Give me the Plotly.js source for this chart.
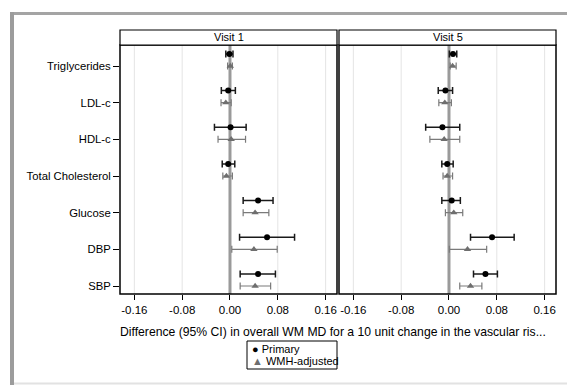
<!DOCTYPE html>
<html>
<head>
<meta charset="utf-8">
<script src="https://cdn.plot.ly/plotly-3.0.1.min.js"></script>
<style>
  html, body { margin: 0; padding: 0; background: #fff; overflow: hidden; }
  #chart { width: 567px; height: 385px; }
</style>
</head>
<body>
<div id="chart"></div>
<script>
// Risk factors, listed top to bottom
const factors = ["Triglycerides", "LDL-c", "HDL-c", "Total Cholesterol", "Glucose", "DBP", "SBP"];
const panels = ["Visit 1", "Visit 5"];

// Visit 1 – primary model
const v1PrimaryEst = [-0.001, -0.003, 0.001, -0.003, 0.047, 0.062, 0.047];
const v1PrimaryLo  = [-0.007, -0.0145, -0.026, -0.013, 0.022, 0.016, 0.017];
const v1PrimaryHi  = [0.005, 0.009, 0.027, 0.008, 0.072, 0.108, 0.076];
// Visit 1 – WMH-adjusted model
const v1AdjEst = [0.0005, -0.007, 0.002, -0.006, 0.042, 0.040, 0.042];
const v1AdjLo  = [-0.004, -0.015, -0.020, -0.012, 0.022, 0.003, 0.017];
const v1AdjHi  = [0.004, 0.002, 0.026, 0.004, 0.065, 0.079, 0.068];

// Visit 5 – primary model
const v5PrimaryEst = [0.0067, -0.006, -0.011, -0.003, 0.0045, 0.072, 0.061];
const v5PrimaryLo  = [0.0006, -0.018, -0.039, -0.012, -0.012, 0.036, 0.041];
const v5PrimaryHi  = [0.013, 0.006, 0.018, 0.007, 0.019, 0.109, 0.081];
// Visit 5 – WMH-adjusted model
const v5AdjEst = [0.006, -0.007, -0.008, -0.003, 0.008, 0.031, 0.036];
const v5AdjLo  = [0.002, -0.017, -0.032, -0.010, -0.006, 0.0006, 0.018];
const v5AdjHi  = [0.012, 0.004, 0.018, 0.006, 0.023, 0.063, 0.055];

const xTicks = [-0.16, -0.08, 0.00, 0.08, 0.16];
const xTickText = ["-0.16", "-0.08", "0.00", "0.08", "0.16"];
const xTitle = "Difference (95% CI) in overall WM MD for a 10 unit change in the vascular ris...";
const legendNames = ["Primary", "WMH-adjusted"];

const FONT = "Liberation Sans, Arial, Helvetica, sans-serif";
const W = 567, H = 385;
const px = v => v / W;           // horizontal pixel -> paper
const py = v => 1 - v / H;       // vertical pixel -> paper

// category rows: top row highest
const n = factors.length;
const rowPos = factors.map((_, i) => n - 1 - i);
const primaryShift = 0.33;       // primary estimate sits slightly above the row

function series(est, lo, hi, shift, xa, style) {
  return {
    type: "scatter", mode: "markers",
    x: est, y: rowPos.map(r => r + shift),
    xaxis: xa, yaxis: "y",
    showlegend: false, hoverinfo: "skip",
    marker: style.marker,
    error_x: {
      type: "data", symmetric: false,
      array: hi.map((h, i) => h - est[i]),
      arrayminus: lo.map((l, i) => est[i] - l),
      color: style.errColor, thickness: style.errWidth, width: 3.5
    }
  };
}

const primaryStyle = { marker: { symbol: "circle", size: 6, color: "#000" }, errColor: "#1a1a1a", errWidth: 1.5 };
const adjStyle = { marker: { symbol: "triangle-up", size: 6.5, color: "#6e6e6e" }, errColor: "#7a7a7a", errWidth: 1.2 };

const data = [
  series(v1PrimaryEst, v1PrimaryLo, v1PrimaryHi, primaryShift, "x", primaryStyle),
  series(v1AdjEst, v1AdjLo, v1AdjHi, 0, "x", adjStyle),
  series(v5PrimaryEst, v5PrimaryLo, v5PrimaryHi, primaryShift, "x2", primaryStyle),
  series(v5AdjEst, v5AdjLo, v5AdjHi, 0, "x2", adjStyle)
];

const xRange = [-0.184, 0.179];
const dom1 = [px(120), px(337)];
const dom2 = [px(339), px(556)];
const yDom = [py(294), py(45)];

function xAxis(domain) {
  return {
    domain: domain, range: xRange, anchor: "y",
    tickvals: xTicks, ticktext: xTickText,
    ticks: "outside", ticklen: 5, tickwidth: 1, tickcolor: "#000",
    showgrid: false, zeroline: false, showline: false,
    tickfont: { family: FONT, size: 11.5, color: "#000" },
    fixedrange: true
  };
}

const shapes = [];
// outer frame: heavy grey top and left edges, faint bottom edge
shapes.push({ type: "line", xref: "paper", yref: "paper", x0: px(10), x1: px(600), y0: py(13.5), y1: py(13.5),
  line: { color: "#a4a4a4", width: 3 } });
shapes.push({ type: "line", xref: "paper", yref: "paper", x0: px(12), x1: px(12), y0: py(12), y1: py(400),
  line: { color: "#9c9c9c", width: 4 } });
shapes.push({ type: "line", xref: "paper", yref: "paper", x0: px(14), x1: px(600), y0: py(383.5), y1: py(383.5),
  line: { color: "#e2e2e2", width: 2 } });
// vertical grid lines (the zero tick is covered by the reference line)
["x", "x2"].forEach(xa => {
  xTicks.filter(t => t !== 0).forEach(t => {
    shapes.push({ type: "line", xref: xa, yref: "y domain", x0: t, x1: t, y0: 0, y1: 1,
      line: { color: "#e4e4e4", width: 1 }, layer: "below" });
  });
  // reference line at zero
  shapes.push({ type: "line", xref: xa, yref: "y domain", x0: 0, x1: 0, y0: 0, y1: 1,
    line: { color: "#9a9a9a", width: 3 }, layer: "below" });
});
// panel boxes and header strips
[dom1, dom2].forEach(d => {
  shapes.push({ type: "rect", xref: "paper", yref: "paper", x0: d[0], x1: d[1], y0: yDom[0], y1: yDom[1],
    line: { color: "#000", width: 1.5 }, fillcolor: "rgba(0,0,0,0)" });
  shapes.push({ type: "rect", xref: "paper", yref: "paper", x0: d[0], x1: d[1], y0: yDom[1], y1: py(30),
    line: { color: "#000", width: 1.2 }, fillcolor: "#fff" });
});
// legend box
shapes.push({ type: "rect", xref: "paper", yref: "paper", x0: px(247), x1: px(337), y0: py(369), y1: py(341),
  line: { color: "#000", width: 1 }, fillcolor: "#fff" });

const annotations = [];
[dom1, dom2].forEach((d, i) => {
  annotations.push({ xref: "paper", yref: "paper", x: (d[0] + d[1]) / 2, y: py(37.5),
    text: panels[i], showarrow: false, xanchor: "center", yanchor: "middle",
    font: { family: FONT, size: 11, color: "#000" } });
});
annotations.push({ xref: "paper", yref: "paper", x: px(332.5), y: py(332), text: xTitle,
  showarrow: false, xanchor: "center", yanchor: "middle",
  font: { family: FONT, size: 12.2, color: "#000" } });
annotations.push({ xref: "paper", yref: "paper", x: px(250), y: py(348.5),
  text: "<span style=\"color:#000\">●</span> " + legendNames[0],
  showarrow: false, xanchor: "left", yanchor: "middle",
  font: { family: FONT, size: 11, color: "#000" } });
annotations.push({ xref: "paper", yref: "paper", x: px(250), y: py(361),
  text: "<span style=\"color:#6e6e6e\">▲</span> " + legendNames[1],
  showarrow: false, xanchor: "left", yanchor: "middle",
  font: { family: FONT, size: 11, color: "#000" } });

const layout = {
  width: W, height: H,
  margin: { l: 0, r: 0, t: 0, b: 0 },
  paper_bgcolor: "#fff", plot_bgcolor: "#fff",
  showlegend: false,
  xaxis: xAxis(dom1),
  xaxis2: xAxis(dom2),
  yaxis: {
    domain: yDom, range: [-0.218, 6.573], anchor: "x",
    tickvals: rowPos, ticktext: factors,
    ticks: "outside", ticklen: 6, tickwidth: 1, tickcolor: "#000",
    showgrid: false, zeroline: false, showline: false,
    tickfont: { family: FONT, size: 11.3, color: "#000" },
    fixedrange: true
  },
  shapes: shapes,
  annotations: annotations
};

Plotly.newPlot("chart", data, layout, { displayModeBar: false, staticPlot: true });
</script>
</body>
</html>
